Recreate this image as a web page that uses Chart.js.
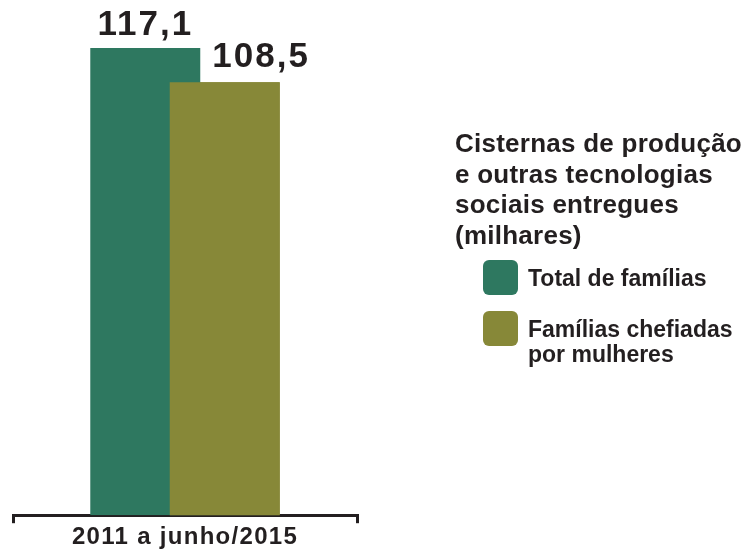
<!DOCTYPE html>
<html lang="pt-BR">
<head>
<meta charset="utf-8">
<title>Cisternas de produção</title>
<script src="https://cdn.jsdelivr.net/npm/chart.js@4/dist/chart.umd.min.js"></script>
<style>
  body { margin: 0; background: #ffffff; }
  #wrap { position: relative; width: 748px; height: 552px; font-family: "Liberation Sans", Arial, sans-serif; color: #231f20; }
  #wrap canvas { position: absolute; left: 0; top: 0; }
  .legend-title { position: absolute; left: 455px; top: 128px; font-size: 26px; line-height: 30.5px; font-weight: bold; letter-spacing: 0.25px; }
  .legend-item { position: absolute; left: 483px; font-size: 23px; line-height: 25px; font-weight: bold; }
  .legend-item .sw { position: absolute; left: 0; top: -6px; width: 35px; height: 35px; border-radius: 6px; }
  .legend-item .txt { position: absolute; left: 45px; top: 0; white-space: nowrap; }
</style>
</head>
<body>
<div id="wrap">
  <canvas id="chart" width="748" height="552"></canvas>
  <div class="legend-title">Cisternas de produção<br>e outras tecnologias<br>sociais entregues<br>(milhares)</div>
  <div id="legend"></div>
</div>
<script>
// data
const categories = ['2011 a junho/2015'];
const seriesNames = ['Total de famílias', 'Famílias chefiadas<br>por mulheres'];
const totalFamilias = [117.1];
const chefiadasMulheres = [108.5];
const yMax = 129.1;

const colors = ['#2e7860', '#878838'];
const textColor = '#231f20';

// legend (html)
const legendEl = document.getElementById('legend');
seriesNames.forEach((name, i) => {
  const item = document.createElement('div');
  item.className = 'legend-item';
  item.style.top = (266 + i * 51) + 'px';
  item.innerHTML = `<div class="sw" style="background:${colors[i]}"></div><div class="txt">${name}</div>`;
  legendEl.appendChild(item);
});

function fmt(v) {
  return v.toLocaleString('pt-BR', { minimumFractionDigits: 1, maximumFractionDigits: 1 });
}

// olive bar sits on top of the green one, values drawn above
const barLabels = {
  id: 'barLabels',
  beforeDraw(chart) {
    chart.ctx.letterSpacing = '1.3px';
  },
  afterDatasetsDraw(chart) {
    const ctx = chart.ctx;
    const m0 = chart.getDatasetMeta(0).data[0];
    const m1 = chart.getDatasetMeta(1).data[0];
    m1.draw(ctx);

    ctx.save();
    ctx.letterSpacing = '2px';
    ctx.fillStyle = textColor;
    ctx.font = 'bold 35px "Liberation Sans", Arial, sans-serif';
    ctx.textBaseline = 'alphabetic';
    ctx.textAlign = 'center';
    ctx.fillText(fmt(totalFamilias[0]), m0.x, m0.y - 13);
    ctx.textAlign = 'left';
    ctx.fillText(fmt(chefiadasMulheres[0]), m0.x + m0.width / 2 + 12, m1.y - 15);
    ctx.restore();
  }
};

new Chart(document.getElementById('chart'), {
  type: 'bar',
  data: {
    labels: categories,
    datasets: [
      { label: 'Total de famílias', data: totalFamilias, backgroundColor: colors[0] },
      { label: 'Famílias chefiadas por mulheres', data: chefiadasMulheres, backgroundColor: colors[1] }
    ]
  },
  options: {
    responsive: false,
    animation: false,
    events: [],
    categoryPercentage: 0.462,
    barPercentage: 1.384,
    layout: { padding: { left: 13, right: 391, top: 0, bottom: 0 } },
    plugins: {
      legend: { display: false },
      tooltip: { enabled: false }
    },
    scales: {
      x: {
        z: 1,
        grid: {
          offset: true,
          drawOnChartArea: false,
          drawTicks: true,
          tickLength: 8,
          lineWidth: 3,
          color: textColor
        },
        border: { display: true, width: 3, color: textColor },
        ticks: {
          padding: 0,
          color: textColor,
          font: { family: '"Liberation Sans", Arial, sans-serif', size: 24, weight: 'bold' }
        }
      },
      y: {
        display: false,
        min: 0,
        max: yMax
      }
    }
  },
  plugins: [barLabels]
});
</script>
</body>
</html>
